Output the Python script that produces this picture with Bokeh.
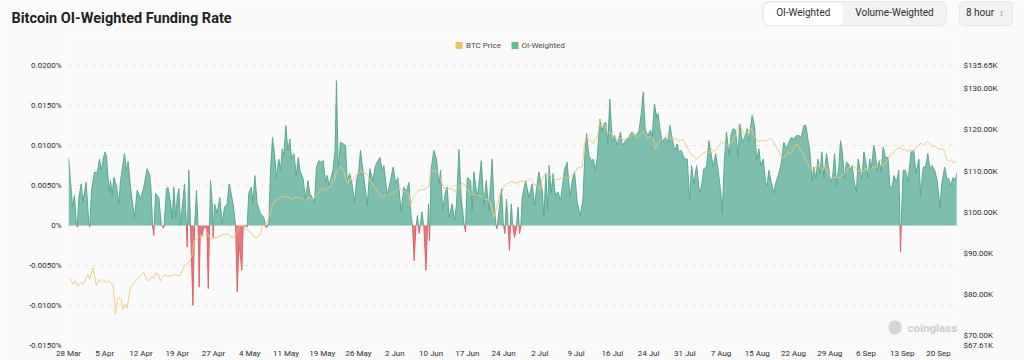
from bokeh.plotting import figure
from bokeh.models import (Range1d, LinearAxis, FixedTicker, CustomJSTickFormatter, Label,
                          BoxAnnotation, Div)
from bokeh.layouts import column
from bokeh.embed import file_html
from bokeh.resources import INLINE

TITLE = "Bitcoin OI-Weighted Funding Rate"
SEGMENTS = ["OI-Weighted", "Volume-Weighted"]
INTERVAL = "8 hour"
LEGEND = ["BTC Price", "OI-Weighted"]

# x unit: 8-hour funding periods since 28 Mar
x_tick_labels = ["28 Mar", "5 Apr", "12 Apr", "19 Apr", "27 Apr", "4 May", "11 May",
                 "19 May", "26 May", "2 Jun", "10 Jun", "17 Jun", "24 Jun", "2 Jul",
                 "9 Jul", "16 Jul", "24 Jul", "31 Jul", "7 Aug", "15 Aug", "22 Aug",
                 "29 Aug", "6 Sep", "13 Sep", "20 Sep"]
TICK_STEP = 22
LAST_PERIOD = 539.5

funding_ticks = [-0.015, -0.01, -0.005, 0.0, 0.005, 0.01, 0.015, 0.02]
price_axis_min = 67.61
price_axis_max = 135.65
price_ticks = [67.61, 70, 80, 90, 100, 110, 120, 130, 135.65]

funding_period = [
    0.0, 1.2, 2.4, 3.6, 4.7, 5.3, 6.3, 7.7, 8.7, 10.7,
    12.3, 12.9, 14.0, 15.8, 17.4, 18.8, 19.8, 22.0, 23.0, 24.7,
    25.5, 26.5, 27.5, 29.1, 30.5, 31.6, 34.0, 35.0, 36.2, 37.6,
    40.0, 41.7, 43.7, 45.7, 47.7, 49.4, 50.2, 51.0, 51.8, 52.8,
    54.8, 56.4, 57.9, 59.5, 60.3, 61.9, 63.0, 63.9, 65.1, 66.0,
    67.0, 68.0, 70.4, 71.6, 72.0, 73.0, 74.0, 75.5, 76.5, 77.7,
    78.7, 79.3, 80.0, 81.0, 82.0, 84.0, 84.8, 86.2, 87.2, 87.8,
    88.6, 90.2, 91.8, 93.3, 94.7, 96.3, 97.5, 98.7, 99.9, 101.4,
    102.4, 103.4, 104.4, 105.2, 106.0, 107.4, 108.4, 109.4, 110.9, 112.0,
    113.1, 114.5, 116.5, 118.5, 119.8, 120.6, 121.6, 122.6, 123.8, 125.0,
    126.2, 127.6, 128.7, 129.7, 130.7, 131.9, 133.1, 134.4, 135.3, 136.8,
    138.2, 139.4, 140.4, 142.4, 143.8, 145.3, 146.5, 147.9, 149.3, 150.5,
    151.9, 153.4, 154.6, 156.0, 157.0, 158.2, 159.4, 160.6, 161.8, 162.6,
    163.7, 165.0, 166.7, 168.1, 169.1, 170.7, 172.2, 173.6, 174.8, 176.2,
    177.2,
    181.3, 182.9, 184.7, 186.3, 189.0, 190.4, 191.4, 193.4, 195.4, 197.0,
    198.5, 199.9, 201.9, 203.5, 205.1, 206.6, 208.0, 208.8, 209.8, 210.8,
    211.8, 212.8, 214.5, 215.7, 216.9, 217.9, 218.5, 219.1, 220.1, 221.7,
    223.3, 224.8, 225.8, 227.0, 228.8, 229.8, 231.0, 232.8, 234.3, 235.5,
    236.9, 238.3, 239.9, 240.9, 242.0, 244.0, 245.0, 246.0, 248.0, 249.0,
    250.5, 252.1, 253.5, 255.1, 257.1, 258.1, 259.3, 260.0, 261.2, 262.8,
    263.8, 264.8, 265.8, 266.8, 267.6, 268.7, 269.5, 270.7, 271.9, 272.8,
    273.7, 274.5, 275.3, 277.4, 279.4, 281.4, 282.8, 285.4, 287.5, 288.5,
    289.7, 290.7, 291.7, 292.9, 294.1, 295.5, 297.0, 298.6, 301.0, 302.6,
    304.3, 305.7, 307.1, 308.7, 310.7, 312.2, 313.4, 314.4, 315.8, 317.3,
    318.5, 319.7, 320.9, 322.5, 323.7, 324.9, 326.1, 327.3, 328.5, 330.0,
    331.4, 333.0,
    335.0, 336.0, 338.0, 340.0, 342.0, 344.0, 346.1, 347.6, 348.8, 350.0,
    351.6, 353.2, 354.2, 355.6, 356.9, 357.7, 358.9, 360.3, 362.3, 363.7,
    365.0, 366.4, 367.8, 369.4, 370.4, 371.8, 373.9, 375.5, 376.9, 378.1,
    379.5, 381.2, 382.8, 384.0, 385.6, 387.2, 388.6, 389.6, 391.3, 392.7,
    394.1, 395.7, 396.7, 398.1, 399.3, 400.8, 402.2, 403.4, 404.8, 406.2,
    407.4, 408.9, 410.3, 411.9, 412.9, 413.9, 414.9, 416.3, 417.6, 419.0,
    420.0, 421.6, 423.0, 424.0, 425.0, 426.5, 428.1, 429.1, 431.1, 432.5,
    434.1, 435.8, 437.2, 438.6, 440.2, 441.8, 443.2, 444.6, 446.3, 447.5,
    448.7, 449.9, 451.3, 452.3, 453.6, 454.8, 456.0, 457.2, 458.4, 460.0,
    461.2, 462.5, 463.7, 464.9, 466.1, 467.5, 468.5, 469.5, 470.9, 472.1,
    473.4, 474.6, 475.6, 477.0, 478.2, 479.2, 480.3, 481.5, 482.7, 483.7,
    485.1, 486.3, 487.1, 488.7, 489.7, 490.7, 491.9, 493.2, 494.4, 495.8,
    497.3, 498.5, 499.9, 500.9, 502.5, 503.9, 504.5, 504.9, 505.5, 506.5,
    507.9, 509.4, 510.6, 511.4, 513.0, 514.2, 516.1, 517.1, 518.7, 520.1,
    521.5, 522.7, 524.1, 525.6, 527.2, 528.8, 530.0, 531.7, 532.9, 534.3,
    535.3, 536.9, 538.3, 539.0,
]

funding_rate_pct = [
    0.0085, 0.0056, 0.0023, 0.00375, 0.0004, -0.0002, 0.0035, 0.0052, 0.0029, 0.0054,
    0.0004, -0.0002, 0.0044, 0.0067, 0.0065, 0.0083, 0.0069, 0.0092, 0.00875, 0.0042,
    0.0056, 0.00375, 0.0060, 0.0050, 0.0027, 0.0056, 0.0090, 0.0069, 0.0080, 0.0048,
    0.0010, 0.0044, 0.0033, 0.0048, 0.0071, 0.00625, 0.0040, 0.0000, -0.00125, 0.0040,
    0.0035, 0.0000, -0.0003, 0.0046, 0.0048, 0.0029, 0.0008, 0.0048, 0.0010, 0.0035,
    0.0046, 0.0000, 0.0052, -0.0002, -0.0027, 0.0069, 0.0002, -0.0100, -0.0002, 0.0044,
    -0.0006, -0.0077, -0.0006, -0.00125, -0.0002, -0.0003, -0.0079, 0.0056, 0.0027, -0.0015,
    0.0027, 0.0015, 0.0035, 0.0002, 0.0023, 0.0027, 0.0052, 0.0040, 0.0027, 0.0000,
    -0.0083, -0.0023, -0.0040, -0.0056, -0.0002, 0.0000, -0.0002, 0.0040, 0.0048, 0.0027,
    0.00625, 0.0027, 0.0015, 0.0010, -0.0002, -0.0002, 0.0004, 0.0069, 0.0110, 0.0090,
    0.0060, 0.0083, 0.0069, 0.0096, 0.00875, 0.0125, 0.0094, 0.0108, 0.0083, 0.0090,
    0.00625, 0.0085, 0.0069, 0.0058, 0.0033, 0.0056, 0.0040, 0.0035, 0.0029, 0.0073,
    0.0081, 0.0079, 0.0081, 0.0054, 0.00625, 0.0050, 0.0060, 0.0071, 0.0094, 0.0181,
    0.0069, 0.0104, 0.0102, 0.0100, 0.0056, 0.0065, 0.0050, 0.0029, 0.0056, 0.0069,
    0.0094,
    0.0025, 0.0071, 0.0056, 0.0075, 0.0085, 0.0069, 0.0075, 0.00375, 0.0056, 0.0073,
    0.0052, 0.0060, 0.0017, 0.0048, 0.0042, 0.0054, 0.0010, 0.0000, -0.0044, -0.0002,
    0.00125, -0.0010, 0.0017, -0.0002, -0.0056, -0.0002, 0.0027, -0.0019, 0.0071, 0.0094,
    0.0083, 0.0052, 0.0069, 0.0019, 0.0042, 0.0048, 0.0010, 0.0027, 0.0006, 0.0027,
    0.0095, 0.0035, 0.0004, -0.0008, 0.0060, 0.0056, 0.0019, 0.0067, 0.0035, 0.0050,
    0.0081, 0.0025, 0.0056, 0.0019, 0.0083, 0.0033, 0.0002, -0.0004, 0.0017, 0.0046,
    0.0004, -0.0010, 0.0033, -0.0002, -0.0031, 0.0027, 0.0002, -0.0015, -0.0002, 0.0023,
    -0.0010, -0.0002, 0.0035, 0.0056, 0.0035, 0.0052, 0.0025, 0.0067, 0.0044, 0.0010,
    0.0065, 0.0019, 0.0075, 0.0040, 0.0065, 0.00375, 0.0042, 0.0031, 0.0069, 0.0079,
    0.0035, 0.0056, 0.0067, 0.0029, 0.00125, 0.0033, 0.0090, 0.0115, 0.00875, 0.0081,
    0.0083, 0.0069, 0.0085, 0.0133, 0.0117, 0.0127, 0.0129, 0.0102, 0.0158, 0.0104,
    0.01125, 0.0100,
    0.0117, 0.0100, 0.0106, 0.0110, 0.0117, 0.01125, 0.0117, 0.0140, 0.0167, 0.0119,
    0.01125, 0.0119, 0.0110, 0.0152, 0.0135, 0.0140, 0.0121, 0.0104, 0.0110, 0.0104,
    0.0125, 0.0108, 0.0094, 0.0102, 0.0092, 0.0094, 0.0083, 0.0083, 0.0031, 0.0075,
    0.0052, 0.0075, 0.0042, 0.0048, 0.0071, 0.0073, 0.0106, 0.0094, 0.0073, 0.0090,
    0.0071, 0.0044, 0.0015, 0.0083, 0.0117, 0.00875, 0.0115, 0.0121, 0.0119, 0.00875,
    0.0127, 0.0104, 0.0110, 0.0121, 0.0104, 0.0123, 0.01375, 0.0125, 0.0081, 0.0096,
    0.0075, 0.0083, 0.0054, 0.0050, 0.0069, 0.0054, 0.0040, 0.0052, 0.0065, 0.0077,
    0.0104, 0.0096, 0.0104, 0.0110, 0.0108, 0.01125, 0.01125, 0.0110, 0.0125, 0.0125,
    0.0108, 0.0092, 0.0056, 0.0073, 0.0058, 0.0083, 0.0065, 0.0092, 0.0060, 0.0090,
    0.0073, 0.0054, 0.0060, 0.0090, 0.0050, 0.0073, 0.0106, 0.0094, 0.0058, 0.0079,
    0.0077, 0.0069, 0.0075, 0.0052, 0.0042, 0.0083, 0.0071, 0.0058, 0.0092, 0.0081,
    0.0060, 0.0083, 0.0069, 0.0100, 0.0090, 0.0067, 0.0081, 0.0067, 0.0098, 0.0085,
    0.0085, 0.0048, 0.0048, 0.00625, 0.0054, 0.0069, 0.0010, -0.0033, 0.0010, 0.0069,
    0.0069, 0.0056, 0.0077, 0.0092, 0.0094, 0.0065, 0.0083, 0.00375, 0.0073, 0.0073,
    0.0090, 0.0071, 0.0075, 0.0069, 0.0056, 0.0023, 0.0052, 0.0073, 0.0060, 0.0058,
    0.0050, 0.0060, 0.0056, 0.0065,
]

price_period = [
    0.0, 1.2, 2.8, 4.2, 5.7, 7.3, 8.9, 10.3, 11.7, 12.9,
    14.4, 15.0, 15.8, 17.0, 18.4, 19.8, 21.4, 23.1, 24.5, 25.9,
    27.1, 28.5, 29.5, 30.5, 32.0, 33.2, 34.6, 35.6, 36.6, 37.6,
    39.2, 40.7, 42.7, 44.1, 45.7, 47.3, 48.8, 50.2, 51.8, 53.4,
    54.8, 55.8, 57.5, 58.9, 60.3, 61.9, 63.5, 64.9, 66.4, 68.0,
    69.2, 70.4, 72.0, 73.0, 74.0, 75.1, 76.1, 77.1, 78.5, 79.7,
    81.1, 82.5, 84.2, 85.8, 87.2, 88.6, 90.2, 91.8, 93.3, 94.7,
    96.3, 97.9, 99.3, 100.7, 102.0, 103.4, 104.4, 106.0, 106.8, 108.0,
    109.4, 110.9, 112.5, 114.1, 115.5, 116.5, 117.7, 119.0, 120.2, 121.6,
    122.6, 123.8, 125.0, 126.6, 128.3, 129.7, 131.1, 132.7, 134.3, 135.7,
    137.2, 138.8, 140.4, 141.8, 143.2, 144.9, 146.5, 147.9, 149.3, 150.9,
    152.5, 154.0, 155.0, 156.0, 157.4, 159.0, 160.2, 161.5, 162.7, 163.9,
    165.1, 166.1, 167.1, 168.3, 169.5, 170.7, 172.2, 173.6, 174.8, 176.2,
    177.2,
    178.2, 179.6, 181.3, 183.3, 185.3, 187.3, 189.3, 191.0, 192.4, 193.8,
    195.4, 197.5, 199.5, 201.1, 203.1, 204.7, 206.6, 207.6, 208.6, 210.0,
    212.0, 213.6, 215.7, 217.3, 218.7, 219.7, 221.3, 223.3, 224.8, 226.2,
    227.8, 229.4, 230.8, 232.3, 233.9, 235.9, 237.5, 238.9, 240.4, 242.0,
    244.0, 246.0, 247.7, 249.7, 251.1, 252.5, 254.1, 255.7, 257.1, 258.1,
    259.1, 260.5, 261.7, 263.1, 264.5, 266.2, 267.8, 269.2, 270.6, 272.3,
    274.3, 276.3, 278.4, 280.0, 281.4, 282.8, 284.4, 286.1, 287.5, 288.9,
    290.5, 292.1, 293.6, 295.0, 296.6, 298.2, 299.6, 301.0, 302.7, 304.3,
    305.7, 307.1, 308.7, 310.4, 311.8, 312.8, 313.8, 315.2, 316.8, 318.4,
    319.9, 321.3, 322.5, 323.9, 325.3, 326.9, 328.5, 330.0, 331.4, 333.0,
    335.0, 337.0, 339.1, 341.1, 343.1, 344.7, 346.1, 347.6, 348.8, 350.2,
    351.6, 353.2, 354.8, 356.2, 357.7, 359.3, 360.9, 362.3, 363.7, 365.4,
    367.0, 368.4, 369.8, 371.4, 373.1, 374.5, 376.5, 377.9, 379.5, 381.1,
    382.6, 384.0, 385.6, 387.2, 388.6, 390.0, 391.7, 393.3, 394.7, 396.1,
    397.7, 399.4, 400.8, 402.2, 403.8, 405.4, 406.8, 408.3, 409.9, 411.5,
    412.9, 414.3, 415.5, 417.0, 418.4, 420.0, 421.6, 423.0, 424.4, 426.1,
    427.7, 429.1, 430.5, 432.1, 433.8, 435.2, 436.6, 438.2, 439.8, 441.2,
    442.6, 444.3, 445.9, 447.3, 448.7, 450.3, 452.0, 453.4, 454.8, 456.4,
    458.0, 459.4, 460.8, 462.4, 464.1, 465.5, 466.9, 468.5, 470.2, 471.6,
    473.0, 474.6, 476.2, 477.6, 479.0, 480.7, 482.3, 483.7, 485.1, 486.7,
    488.4, 489.8, 491.2, 492.8, 494.4, 495.8, 497.3, 498.9, 500.5, 501.9,
    503.3, 504.9, 506.5, 507.9, 509.4, 511.0, 512.6, 514.0, 515.4, 517.1,
    518.7, 520.1, 521.5, 522.7, 524.1, 525.6, 527.2, 528.8, 530.2, 531.6,
    532.9, 534.3, 535.7, 537.3, 538.9,
]

btc_price_k = [
    84.1, 83.7, 82.5, 83.3, 82.1, 82.9, 82.5, 83.7, 84.9, 83.7,
    86.1, 86.5, 84.5, 82.1, 83.7, 82.9, 83.5, 82.9, 83.3, 82.5,
    82.5, 75.2, 78.5, 79.3, 78.9, 76.4, 77.6, 76.8, 79.3, 81.7,
    82.5, 83.3, 84.1, 84.7, 85.3, 83.7, 83.3, 84.3, 84.1, 85.3,
    84.5, 83.3, 84.5, 84.7, 84.5, 84.5, 84.7, 84.9, 84.5, 84.7,
    86.1, 86.9, 87.5, 87.7, 88.5, 89.7, 93.0, 93.4, 93.8, 94.2,
    93.9, 94.6, 95.0, 93.8, 93.4, 93.8, 93.9, 94.2, 94.6, 94.6,
    94.8, 94.2, 93.8, 94.0, 95.0, 96.2, 96.9, 96.6, 96.2, 95.8,
    95.4, 95.0, 94.0, 93.8, 94.2, 94.6, 96.9, 96.8, 97.4, 98.6,
    100.2, 101.9, 102.7, 103.1, 103.5, 103.9, 103.6, 103.9, 103.5, 103.1,
    103.5, 103.6, 103.5, 103.1, 102.7, 103.5, 103.5, 103.1, 103.5, 104.3,
    105.1, 105.9, 105.1, 105.5, 105.9, 106.3, 107.5, 107.9, 109.9, 110.7,
    111.1, 110.7, 109.9, 108.3, 107.1, 108.3, 107.5, 107.9, 109.1, 109.5,
    109.9,
    109.9, 109.5, 109.1, 107.5, 106.3, 105.1, 103.9, 103.6, 104.3, 104.1,
    104.3, 104.7, 105.5, 105.9, 105.1, 105.1, 104.3, 101.5, 103.1, 104.3,
    105.1, 105.5, 105.5, 105.9, 106.3, 109.9, 110.1, 109.9, 109.1, 107.5,
    105.9, 105.5, 105.7, 105.9, 105.1, 105.5, 106.3, 107.1, 106.7, 105.5,
    104.3, 104.4, 104.1, 103.9, 103.9, 103.1, 103.1, 102.7, 101.0, 98.6,
    100.2, 101.9, 104.3, 105.1, 106.3, 106.9, 107.3, 107.5, 107.1, 107.1,
    107.5, 107.5, 107.5, 108.2, 107.7, 106.7, 106.7, 105.5, 107.9, 109.1,
    109.1, 109.0, 108.3, 107.9, 107.9, 108.2, 108.3, 108.5, 108.3, 108.5,
    109.1, 109.5, 110.7, 110.9, 111.1, 115.6, 118.0, 118.0, 117.2, 116.8,
    117.6, 118.8, 122.4, 121.6, 121.2, 119.6, 119.2, 118.8, 118.0, 117.6,
    118.0, 117.6, 118.0, 118.4, 119.2, 118.0, 118.4, 119.2, 119.6, 118.8,
    118.0, 118.4, 118.0, 115.2, 116.8, 117.6, 117.6, 118.4, 119.2, 118.0,
    117.6, 118.0, 117.2, 117.6, 117.6, 116.4, 115.2, 114.0, 113.6, 112.8,
    113.6, 114.0, 114.4, 114.8, 114.4, 115.2, 114.8, 115.2, 116.0, 117.2,
    116.8, 116.0, 116.4, 117.2, 118.0, 119.2, 121.2, 120.4, 118.8, 119.2,
    120.0, 120.4, 118.8, 118.0, 117.2, 117.2, 117.6, 117.2, 117.6, 118.0,
    117.2, 116.0, 115.2, 113.6, 113.2, 113.6, 114.8, 114.0, 115.6, 116.4,
    116.4, 114.8, 114.4, 112.8, 111.9, 110.3, 109.9, 111.1, 111.5, 110.7,
    110.3, 111.5, 109.9, 108.3, 108.3, 108.7, 108.3, 108.7, 109.1, 109.9,
    110.7, 111.1, 111.1, 110.7, 109.9, 110.3, 109.9, 110.7, 109.9, 110.3,
    111.1, 110.7, 111.9, 112.8, 111.1, 111.9, 112.8, 114.0, 114.4, 115.2,
    115.6, 115.6, 115.2, 115.2, 114.8, 115.2, 114.8, 115.6, 116.0, 116.8,
    116.4, 116.8, 117.2, 116.8, 116.0, 116.0, 115.6, 115.2, 115.6, 114.8,
    112.8, 112.3, 112.8, 111.9, 112.3,
]

assert len(funding_period) == len(funding_rate_pct)
assert len(price_period) == len(btc_price_k)

# ---- colours / fonts ----
BG = "#fafafa"
GREEN_FILL = "#7dbfae"
GREEN_EDGE = "#5aa892"
RED_FILL = "#e8787d"
RED_EDGE = "#e06066"
GOLD = "#efc675"
LEG_GOLD = "#e8c262"
LEG_GREEN = "#5cc28e"
FONT = "Roboto"
NAN = float("nan")

# layout (pixels)
W, H = 1024, 360
DATA_TOP, DATA_BOTTOM = 65, 345        # where the axis extremes sit
FRAME_TOP = 36                         # frame extends above the data area to hold the legend
head_frac = (DATA_TOP - FRAME_TOP) / (DATA_BOTTOM - DATA_TOP)


def split_at_zero(xs, ys):
    X, P, N = [], [], []
    for k, (x, y) in enumerate(zip(xs, ys)):
        if k > 0:
            x0, y0 = xs[k - 1], ys[k - 1]
            if y0 * y < 0:
                xc = x0 + (x - x0) * y0 / (y0 - y)
                X.append(xc); P.append(0.0); N.append(0.0)
        X.append(x); P.append(max(y, 0.0)); N.append(min(y, 0.0))
    return X, P, N


fx, fpos, fneg = split_at_zero(funding_period, funding_rate_pct)
green_edge = [pv if nv == 0 else NAN for pv, nv in zip(fpos, fneg)]
red_edge = [nv if pv == 0 else NAN for pv, nv in zip(fpos, fneg)]

f_lo, f_hi = funding_ticks[0], funding_ticks[-1]
p_lo, p_hi = price_axis_min, price_axis_max

# ---------------- chart ----------------
p = figure(width=W, height=H, x_range=Range1d(0, LAST_PERIOD),
           y_range=Range1d(f_lo, f_hi + (f_hi - f_lo) * head_frac),
           output_backend="svg", toolbar_location=None,
           min_border_left=68, min_border_right=67, min_border_top=FRAME_TOP,
           min_border_bottom=H - DATA_BOTTOM,
           background_fill_color=BG, border_fill_color=BG, outline_line_color=None)

p.title.text = TITLE
p.title.align = "left"
p.title.vertical_align = "top"
p.title.offset = -57
p.title.text_font = FONT
p.title.text_font_size = "14.5px"
p.title.text_font_style = "bold"
p.title.text_color = "#1f1f1f"
p.title.standoff = 15

p.extra_y_ranges = {"price": Range1d(p_lo, p_hi + (p_hi - p_lo) * head_frac)}

ya = p.yaxis[0]
ya.ticker = FixedTicker(ticks=funding_ticks)
ya.formatter = CustomJSTickFormatter(
    code="if (Math.abs(tick) < 1e-12) { return '0%'; } return tick.toFixed(4) + '%';")
xa = p.xaxis[0]
xa.ticker = FixedTicker(ticks=[k * TICK_STEP for k in range(len(x_tick_labels))])
xa.formatter = CustomJSTickFormatter(
    args=dict(labels=x_tick_labels, step=TICK_STEP),
    code="const k = Math.round(tick / step); return (k >= 0 && k < labels.length) ? labels[k] : '';")

ra = LinearAxis(y_range_name="price", ticker=FixedTicker(ticks=price_ticks),
                formatter=CustomJSTickFormatter(code="return '$' + tick.toFixed(2) + 'K';"))
p.add_layout(ra, "right")

for ax in (ya, xa, ra):
    ax.axis_line_color = None
    ax.major_tick_line_color = None
    ax.minor_tick_line_color = None
    ax.major_tick_out = 0
    ax.major_tick_in = 0
    ax.major_label_text_font = FONT
    ax.major_label_text_font_size = "8px"
    ax.major_label_text_color = "#2a2a2a"
ya.major_label_standoff = 7
ra.major_label_standoff = 6
xa.major_label_standoff = 3

p.xgrid.visible = False
p.ygrid.ticker = FixedTicker(ticks=funding_ticks)
p.ygrid.grid_line_color = "#e4e4e4"
p.ygrid.grid_line_dash = "4 4"
p.ygrid.grid_line_width = 1

p.varea(x=fx, y1=0, y2=fpos, fill_color=GREEN_FILL, fill_alpha=1.0)
p.varea(x=fx, y1=0, y2=fneg, fill_color=RED_FILL, fill_alpha=1.0)
p.line(fx, green_edge, line_color=GREEN_EDGE, line_width=1)
p.line(fx, red_edge, line_color=RED_EDGE, line_width=1)

p.line(price_period, btc_price_k, y_range_name="price", line_color=GOLD,
       line_width=1, line_alpha=0.9)


def cbox(l, r, t, b, **kw):
    return BoxAnnotation(left=l, right=r, top=t, bottom=b, left_units="canvas",
                         right_units="canvas", top_units="canvas", bottom_units="canvas",
                         fill_alpha=1.0, **kw)


def clabel(x, y, text, size, color, bold=False):
    return Label(x=x, y=y, x_units="canvas", y_units="canvas", text=text,
                 text_font=FONT, text_font_size=size, text_color=color,
                 text_font_style="bold" if bold else "normal", text_baseline="middle")


# legend row (inside the frame's head room)
p.add_layout(cbox(455, 462, 41.5, 48.5, fill_color=LEG_GOLD, line_color=None))
p.add_layout(cbox(511, 518, 41.5, 48.5, fill_color=LEG_GREEN, line_color=None))
p.add_layout(clabel(465.5, 45, LEGEND[0], "8px", "#4a4a4a"))
p.add_layout(clabel(521, 45, LEGEND[1], "8px", "#4a4a4a"))

# watermark
p.add_layout(cbox(888, 901, 320, 334, fill_color="#d4d4d4", line_color=None, border_radius=6))
p.add_layout(clabel(907, 327, "coinglass", "11.5px", "#cccccc", bold=True))

# ---------------- segmented controls (HTML overlay) ----------------
box = ("position:absolute;box-sizing:border-box;display:flex;align-items:center;"
       "justify-content:center;")
controls_html = (
    f'<div style="position:relative;width:1024px;height:28px;font-family:{FONT},sans-serif;'
    'font-size:10px;color:#2e2e2e;">'
    f'<div style="{box}left:762px;top:1px;width:185px;height:25px;background:#f2f2f2;'
    'border:1px solid #e6e6e6;border-radius:7px;"></div>'
    f'<div style="{box}left:763.5px;top:2.5px;width:79.5px;height:22px;background:#ffffff;'
    f'border-radius:6px;">{SEGMENTS[0]}</div>'
    f'<div style="{box}left:845px;top:2.5px;width:99px;height:22px;">{SEGMENTS[1]}</div>'
    f'<div style="{box}left:959px;top:1px;width:54px;height:25px;background:#f2f2f2;'
    'border:1px solid #e6e6e6;border-radius:6px;justify-content:flex-start;padding-left:6px;">'
    f'{INTERVAL}<span style="color:#888;font-size:9px;margin-left:5px;">&#8597;</span></div>'
    '</div>'
)
controls = Div(text=controls_html, width=W, height=28, margin=0,
               styles={"position": "absolute", "left": "0px", "top": "0px", "z-index": "10"})

layout = column(p, controls, spacing=0)
open("out.html", "w").write(file_html(layout, INLINE))
